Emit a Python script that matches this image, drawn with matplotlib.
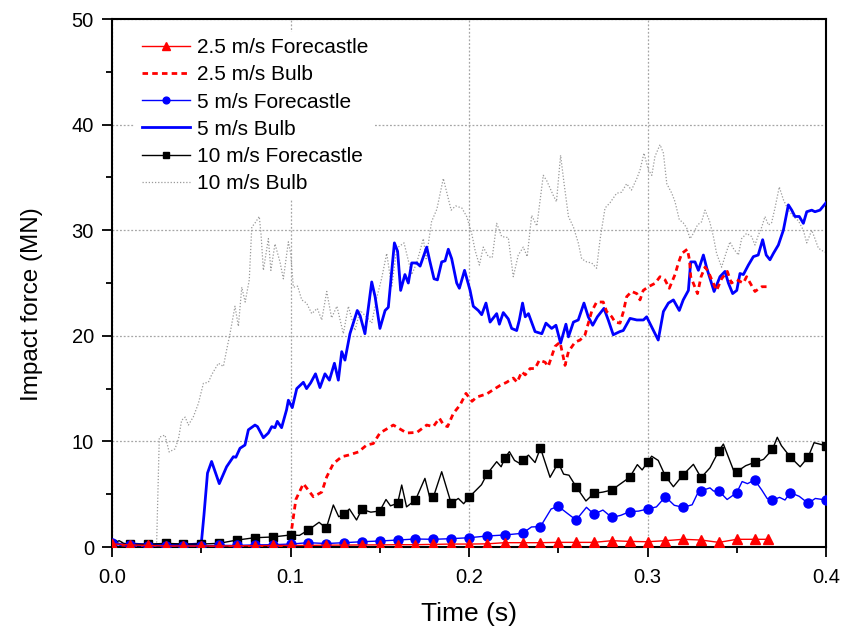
import numpy as np
import matplotlib
matplotlib.use('Agg')
import matplotlib.pyplot as plt

plt.rcParams['font.family'] = ['Liberation Sans', 'DejaVu Sans']

# (time s, force MN)
fc_25 = [(0.00, 0.3), (0.01, 0.2), (0.02, 0.15), (0.03, 0.1), (0.04, 0.1), (0.05, 0.1),
         (0.06, 0.1), (0.07, 0.12), (0.08, 0.12), (0.09, 0.15), (0.10, 0.15), (0.11, 0.15),
         (0.12, 0.18), (0.13, 0.18), (0.14, 0.2), (0.15, 0.2), (0.16, 0.22), (0.17, 0.22),
         (0.18, 0.25), (0.19, 0.28), (0.20, 0.28), (0.21, 0.3), (0.22, 0.41), (0.23, 0.41),
         (0.24, 0.41), (0.25, 0.44), (0.26, 0.44), (0.27, 0.44), (0.28, 0.6), (0.29, 0.53),
         (0.30, 0.5), (0.31, 0.6), (0.32, 0.73), (0.33, 0.66), (0.34, 0.44), (0.35, 0.73),
         (0.36, 0.73), (0.3675, 0.73)]

bulb_25 = [(0.000, 0.3), (0.010, 0.1), (0.030, 0.05), (0.050, 0.05), (0.080, 0.05), (0.099, 0.1),
           (0.1005, 1.5), (0.103, 4.5), (0.1072, 6.0), (0.1128, 4.76), (0.1175, 5.2), (0.1203, 6.65),
           (0.124, 7.9), (0.1287, 8.55), (0.1324, 8.7), (0.138, 9.0), (0.1427, 9.66), (0.1464, 9.8),
           (0.1501, 10.8), (0.1576, 11.55), (0.1651, 10.8), (0.1708, 10.85), (0.1763, 11.55),
           (0.180, 11.4), (0.1834, 12.2), (0.1858, 11.55), (0.188, 11.4), (0.1912, 12.65),
           (0.195, 13.45), (0.1983, 14.55), (0.2017, 13.8), (0.2043, 14.2), (0.21, 14.5),
           (0.2136, 14.9), (0.2174, 15.3), (0.2211, 15.6), (0.2248, 16.0), (0.227, 15.6),
           (0.2295, 16.6), (0.2315, 16.3), (0.2342, 16.9), (0.237, 16.9), (0.2394, 17.7),
           (0.2426, 17.5), (0.2444, 17.1), (0.2482, 19.0), (0.251, 19.4), (0.2538, 17.2),
           (0.2557, 18.5), (0.2594, 19.4), (0.2622, 19.6), (0.265, 20.1), (0.2687, 22.3),
           (0.2715, 23.2), (0.2752, 23.2), (0.2771, 22.3), (0.280, 21.8), (0.2818, 21.3),
           (0.2846, 21.2), (0.2865, 22.3), (0.2883, 23.7), (0.2911, 24.2), (0.294, 24.0),
           (0.2958, 23.4), (0.2976, 24.3), (0.3005, 24.65), (0.3042, 24.97), (0.307, 25.6),
           (0.3098, 25.3), (0.3122, 24.5), (0.3154, 25.8), (0.3173, 26.9), (0.3192, 27.8),
           (0.3223, 28.2), (0.3235, 27.2), (0.3242, 25.6), (0.3261, 24.8), (0.328, 24.0),
           (0.330, 25.6), (0.3322, 26.5), (0.334, 26.1), (0.336, 25.3), (0.3387, 24.3),
           (0.3415, 25.4), (0.3447, 26.1), (0.347, 25.0), (0.350, 25.3), (0.3537, 25.0),
           (0.3555, 25.6), (0.3575, 25.0), (0.3602, 24.2), (0.364, 24.65), (0.3675, 24.65)]

fc_5 = [(0.00, 0.4), (0.01, 0.15), (0.02, 0.1), (0.03, 0.12), (0.04, 0.1), (0.05, 0.12),
        (0.06, 0.15), (0.07, 0.15), (0.08, 0.2), (0.09, 0.22), (0.10, 0.28), (0.11, 0.41),
        (0.12, 0.33), (0.13, 0.41), (0.14, 0.5), (0.15, 0.57), (0.16, 0.66), (0.17, 0.76),
        (0.18, 0.73), (0.19, 0.79), (0.20, 0.88), (0.21, 1.04), (0.22, 1.14), (0.23, 1.3),
        (0.235, 1.9), (0.24, 1.93), (0.246, 3.6), (0.25, 3.85), (0.255, 3.2), (0.26, 2.56),
        (0.2658, 3.76), (0.27, 3.1), (0.275, 3.5), (0.28, 2.8), (0.285, 3.0), (0.29, 3.35),
        (0.295, 3.4), (0.30, 3.6), (0.305, 3.8), (0.31, 4.76), (0.315, 3.95), (0.32, 3.76),
        (0.325, 4.0), (0.3285, 5.24), (0.33, 5.33), (0.335, 5.6), (0.337, 5.3), (0.34, 5.3),
        (0.3446, 4.5), (0.35, 5.15), (0.353, 6.2), (0.356, 6.0), (0.36, 6.35), (0.364, 5.4),
        (0.367, 4.6), (0.37, 4.45), (0.374, 4.7), (0.377, 4.45), (0.38, 5.15), (0.385, 4.8),
        (0.39, 4.14), (0.394, 4.6), (0.40, 4.45)]

bulb_5 = [(0.000, 0.5), (0.005, 0.2), (0.010, 0.3), (0.020, 0.2), (0.030, 0.25), (0.040, 0.2),
          (0.050, 0.3), (0.0515, 3.0), (0.0535, 7.0), (0.0558, 8.1), (0.0601, 6.0), (0.0642, 7.6),
          (0.068, 8.55), (0.0694, 8.5), (0.0717, 9.35), (0.0745, 9.66), (0.0764, 11.1),
          (0.0801, 11.55), (0.0815, 11.4), (0.0848, 10.35), (0.0876, 10.8), (0.0895, 11.4),
          (0.0913, 11.3), (0.0926, 11.9), (0.095, 11.3), (0.0978, 13.0), (0.0988, 13.9),
          (0.101, 13.2), (0.1035, 15.0), (0.1072, 15.6), (0.109, 15.0), (0.1113, 15.55),
          (0.1140, 16.4), (0.1165, 15.1), (0.1193, 16.4), (0.1218, 15.8), (0.1246, 17.4),
          (0.1268, 15.8), (0.1287, 18.5), (0.1305, 17.7), (0.1333, 20.2), (0.1374, 22.4),
          (0.139, 21.9), (0.1417, 20.2), (0.1455, 25.1), (0.1474, 23.7), (0.1501, 20.7),
          (0.153, 22.4), (0.1548, 22.7), (0.1582, 28.8), (0.160, 28.0), (0.1617, 24.3),
          (0.1641, 25.8), (0.166, 25.0), (0.1679, 26.9), (0.1707, 26.9), (0.1726, 26.6),
          (0.1763, 28.4), (0.178, 27.1), (0.1804, 25.4), (0.1823, 25.3), (0.1847, 27.0),
          (0.1866, 27.1), (0.1884, 28.2), (0.1903, 27.3), (0.1931, 25.0), (0.1946, 24.5),
          (0.1975, 26.2), (0.2006, 24.3), (0.2024, 22.8), (0.2052, 22.4), (0.2071, 22.0),
          (0.2095, 23.1), (0.2118, 21.3), (0.2155, 22.1), (0.217, 21.1), (0.2192, 22.2),
          (0.222, 21.6), (0.2239, 20.7), (0.2267, 20.5), (0.2282, 21.5), (0.230, 23.1),
          (0.2315, 21.8), (0.2333, 22.1), (0.237, 20.4), (0.2408, 20.2), (0.2431, 21.2),
          (0.2463, 20.7), (0.2487, 21.0), (0.2513, 19.3), (0.2543, 21.1), (0.2557, 19.9),
          (0.2585, 21.3), (0.2612, 21.5), (0.2644, 23.1), (0.2668, 21.8), (0.2693, 21.0),
          (0.2719, 21.8), (0.2756, 22.6), (0.278, 21.5), (0.2808, 20.1), (0.2845, 20.4),
          (0.2864, 20.5), (0.2902, 21.65), (0.294, 21.5), (0.2977, 21.5), (0.2995, 21.8),
          (0.3033, 20.5), (0.306, 19.6), (0.3089, 22.3), (0.3117, 23.1), (0.3145, 23.4),
          (0.3178, 22.4), (0.320, 23.4), (0.3229, 24.3), (0.3242, 27.0), (0.3266, 27.0),
          (0.3285, 26.2), (0.3313, 27.65), (0.3332, 26.4), (0.3373, 24.2), (0.3406, 25.6),
          (0.3434, 26.1), (0.3453, 25.0), (0.3477, 24.0), (0.350, 24.3), (0.3518, 25.9),
          (0.3537, 25.8), (0.3565, 26.7), (0.3593, 27.5), (0.362, 27.65), (0.3645, 29.1),
          (0.3665, 27.65), (0.3686, 27.2), (0.3705, 27.8), (0.3733, 28.6), (0.3761, 30.0),
          (0.3789, 32.4), (0.3808, 31.9), (0.3826, 31.3), (0.385, 31.3), (0.3873, 30.65),
          (0.3892, 31.75), (0.392, 31.9), (0.3938, 31.75), (0.3966, 31.9), (0.400, 32.6)]

fc_10 = [(0.000, 0.3), (0.004, 0.6), (0.007, 0.3), (0.010, 0.26), (0.020, 0.26), (0.030, 0.35),
         (0.040, 0.28), (0.050, 0.28), (0.060, 0.35), (0.070, 0.66), (0.080, 0.88), (0.090, 0.95),
         (0.100, 1.14), (0.105, 1.1), (0.110, 1.61), (0.116, 2.34), (0.120, 1.77), (0.124, 3.98),
         (0.127, 2.87), (0.130, 3.10), (0.133, 3.6), (0.137, 2.56), (0.140, 3.57), (0.145, 3.3),
         (0.150, 3.41), (0.1535, 4.5), (0.156, 3.9), (0.160, 4.14), (0.1623, 5.87), (0.165, 3.8),
         (0.170, 4.45), (0.1753, 6.5), (0.178, 4.7), (0.180, 4.71), (0.1847, 7.13), (0.190, 4.14),
         (0.194, 4.6), (0.197, 4.1), (0.200, 4.71), (0.207, 5.9), (0.210, 6.88), (0.2155, 8.08),
         (0.218, 7.6), (0.220, 8.40), (0.2226, 9.03), (0.2255, 8.2), (0.2286, 7.9), (0.230, 8.24),
         (0.2333, 8.7), (0.237, 8.0), (0.240, 9.38), (0.2454, 6.6), (0.250, 7.98), (0.253, 6.9),
         (0.256, 6.8), (0.260, 5.71), (0.2655, 4.36), (0.270, 5.08), (0.275, 5.2), (0.280, 5.4),
         (0.285, 6.0), (0.290, 6.6), (0.2943, 7.8), (0.297, 7.3), (0.300, 8.02), (0.3023, 8.6),
         (0.306, 8.2), (0.310, 6.72), (0.3145, 5.71), (0.320, 6.85), (0.3257, 7.83), (0.330, 6.57),
         (0.335, 7.5), (0.340, 9.12), (0.3425, 9.75), (0.3485, 7.13), (0.350, 7.13), (0.355, 7.7),
         (0.360, 8.02), (0.365, 8.3), (0.370, 9.25), (0.3727, 10.39), (0.375, 9.6), (0.380, 8.52),
         (0.3855, 7.6), (0.390, 8.52), (0.3933, 9.88), (0.400, 9.59)]

bulb_10 = [(0.000, 0.3), (0.005, 0.5), (0.010, 0.2), (0.015, 0.3), (0.020, 0.2), (0.025, 0.3),
           (0.0265, 10.4), (0.0297, 10.6), (0.032, 9.0), (0.0353, 9.3), (0.0372, 10.2), (0.039, 12.0),
           (0.041, 12.3), (0.0428, 11.55), (0.0456, 12.34), (0.0484, 13.6), (0.0512, 15.5),
           (0.054, 15.6), (0.0558, 16.3), (0.0596, 17.4), (0.0624, 17.1), (0.0642, 18.65),
           (0.0661, 20.2), (0.0689, 22.8), (0.0708, 20.9), (0.0727, 24.6), (0.0746, 23.2),
           (0.0769, 25.3), (0.0783, 30.3), (0.080, 30.65), (0.0825, 31.3), (0.0835, 29.6),
           (0.0848, 26.2), (0.0876, 29.2), (0.089, 26.2), (0.0913, 28.7), (0.0941, 27.0),
           (0.096, 25.4), (0.0988, 28.9), (0.1001, 27.8), (0.1016, 24.6), (0.104, 24.7),
           (0.1063, 23.4), (0.109, 23.1), (0.1119, 22.1), (0.115, 22.6), (0.1175, 21.5),
           (0.1203, 24.2), (0.123, 21.7), (0.126, 22.8), (0.1296, 20.2), (0.1324, 22.8),
           (0.1361, 20.5), (0.139, 22.4), (0.1425, 21.8), (0.1455, 21.2), (0.1483, 23.6),
           (0.151, 25.4), (0.1539, 27.8), (0.1567, 24.6), (0.1595, 28.3), (0.1636, 28.8),
           (0.1679, 25.8), (0.1707, 26.9), (0.1744, 29.2), (0.176, 27.3), (0.179, 30.8),
           (0.182, 32.0), (0.1856, 34.9), (0.1875, 33.6), (0.190, 31.9), (0.1925, 32.3),
           (0.196, 32.1), (0.1987, 31.3), (0.2015, 29.7), (0.2034, 28.1), (0.2058, 26.7),
           (0.208, 28.4), (0.2108, 27.5), (0.213, 27.4), (0.2155, 30.65), (0.2183, 29.4),
           (0.222, 29.3), (0.2248, 25.6), (0.2276, 27.65), (0.2304, 28.4), (0.2326, 27.5),
           (0.2351, 31.4), (0.238, 30.4), (0.2416, 35.2), (0.2435, 34.7), (0.2472, 33.3),
           (0.249, 32.7), (0.2513, 37.1), (0.2532, 34.5), (0.2557, 31.3), (0.2585, 30.3),
           (0.2612, 28.8), (0.2631, 27.3), (0.2659, 27.0), (0.2687, 26.9), (0.2715, 26.4),
           (0.2734, 29.1), (0.2762, 32.1), (0.279, 32.6), (0.2827, 33.5), (0.2855, 33.6),
           (0.2883, 34.4), (0.291, 33.8), (0.294, 34.9), (0.2958, 35.7), (0.298, 37.3),
           (0.3005, 35.7), (0.3024, 35.2), (0.3042, 37.0), (0.307, 38.1), (0.3089, 37.3),
           (0.3108, 34.4), (0.3136, 33.5), (0.3154, 32.7), (0.3178, 31.0), (0.320, 30.7),
           (0.322, 30.2), (0.3238, 29.2), (0.3257, 29.7), (0.328, 30.5), (0.3303, 30.8),
           (0.3322, 31.9), (0.3347, 30.9), (0.3369, 29.4), (0.3387, 27.8), (0.3415, 26.5),
           (0.3443, 28.0), (0.3462, 28.9), (0.348, 28.3), (0.3509, 27.65), (0.3527, 29.2),
           (0.3555, 29.7), (0.3583, 29.4), (0.3602, 28.6), (0.362, 29.5), (0.364, 30.3),
           (0.3658, 31.3), (0.3677, 30.5), (0.3695, 30.7), (0.3714, 32.1), (0.3738, 34.1),
           (0.3761, 32.9), (0.3789, 31.9), (0.3817, 31.3), (0.3845, 30.9), (0.3873, 30.0),
           (0.3892, 28.8), (0.392, 30.0), (0.3938, 29.2), (0.3957, 28.3), (0.3985, 28.0),
           (0.400, 27.9)]


def xy(pairs):
    a = np.array(pairs)
    return a[:, 0], a[:, 1]


def every_10ms(t):
    # markers sit on the 0.01 s samples
    return [i for i, v in enumerate(t) if abs(v * 100 - round(v * 100)) < 1e-6]


fig = plt.figure(figsize=(8.44, 6.34), dpi=100)
ax = fig.add_axes([0.1327, 0.1372, 0.846, 0.8328])

t, v = xy(bulb_10)
ax.plot(t, v, color='0.6', ls=(0, (1, 1.5)), lw=0.9, label='10 m/s Bulb', zorder=2)
t, v = xy(bulb_5)
ax.plot(t, v, color='#0000ff', lw=2, label='5 m/s Bulb', zorder=3)
t, v = xy(bulb_25)
ax.plot(t, v, color='#ff0000', ls=(0, (2, 1.5)), lw=2, label='2.5 m/s Bulb', zorder=3)
t, v = xy(fc_10)
ax.plot(t, v, color='black', lw=1, marker='s', ms=6, markevery=every_10ms(t),
        label='10 m/s Forecastle', zorder=4)
t, v = xy(fc_5)
ax.plot(t, v, color='#0000ff', lw=1, marker='o', ms=6.5, markevery=every_10ms(t),
        label='5 m/s Forecastle', zorder=5)
t, v = xy(fc_25)
ax.plot(t, v, color='#ff0000', lw=1, marker='^', ms=7, label='2.5 m/s Forecastle', zorder=6)

ax.set_xlim(0, 0.4)
ax.set_ylim(0, 50)
ax.set_xticks([0.0, 0.1, 0.2, 0.3, 0.4])
ax.set_xticks([0.05, 0.15, 0.25, 0.35], minor=True)
ax.set_yticks(range(0, 51, 10))
ax.set_yticks(range(5, 50, 10), minor=True)
ax.xaxis.set_major_formatter(plt.FormatStrFormatter('%.1f'))
ax.tick_params(which='major', direction='out', length=7, width=1.3, labelsize=14.5)
ax.tick_params(axis='x', which='major', pad=8)
ax.tick_params(axis='y', which='major', pad=6)
ax.tick_params(which='minor', direction='out', length=4, width=1.3)
ax.tick_params(top=False, right=False)
for s in ax.spines.values():
    s.set_linewidth(1.5)
ax.grid(True, which='major', color='0.65', ls=(0, (1.5, 1.5)), lw=0.9)
ax.set_axisbelow(True)

ax.set_xlabel('Time (s)', fontsize=19, labelpad=11)
ax.set_ylabel('Impact force (MN)', fontsize=17.5, labelpad=16)
ax.yaxis.set_label_coords(-0.096, 0.46)

h, l = ax.get_legend_handles_labels()
order = ['2.5 m/s Forecastle', '2.5 m/s Bulb', '5 m/s Forecastle',
         '5 m/s Bulb', '10 m/s Forecastle', '10 m/s Bulb']
hm = dict(zip(l, h))
leg = ax.legend([hm[k] for k in order], order, loc='upper left',
                bbox_to_anchor=(0.018, 0.995), fontsize=15, handlelength=2.35,
                handletextpad=0.3, labelspacing=0.39, frameon=True, framealpha=1,
                borderpad=0.3, markerscale=0.75)
leg.get_frame().set_edgecolor('none')
leg.get_frame().set_facecolor('white')
leg.set_zorder(10)

fig.savefig('out.png', dpi=100)
